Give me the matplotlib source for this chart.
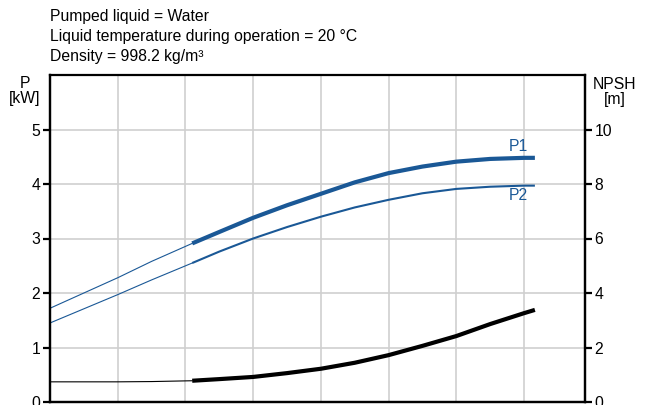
import matplotlib.pyplot as plt

plt.rcParams['font.family'] = ['Liberation Sans', 'DejaVu Sans']

# flow axis positions (no labels on the reference, gridline units)
x_thin = [0, 1, 1.5, 2.1]
x_thick = [2.1, 2.5, 3, 3.5, 4, 4.5, 5, 5.5, 6, 6.5, 7, 7.16]

# power curves [kW]
p1_thin = [1.72, 2.28, 2.58, 2.91]
p1_thick = [2.91, 3.12, 3.38, 3.61, 3.82, 4.03, 4.20, 4.32, 4.41, 4.46, 4.48, 4.48]
p2_thin = [1.45, 1.97, 2.24, 2.55]
p2_thick = [2.55, 2.76, 3.00, 3.21, 3.40, 3.57, 3.71, 3.83, 3.91, 3.95, 3.97, 3.97]

# NPSH curve [m]
npsh_thin = [0.74, 0.74, 0.75, 0.78]
npsh_thick = [0.78, 0.84, 0.92, 1.06, 1.22, 1.44, 1.72, 2.06, 2.42, 2.86, 3.26, 3.38]

blue = '#1a5896'
fs = 11.3

fig = plt.figure(figsize=(6.49, 4.05), dpi=100)
ax = fig.add_axes([50 / 649, 3 / 405, 535 / 649, 327 / 405])
ax2 = ax.twinx()

ax.plot(x_thin, p1_thin, color=blue, lw=0.8)
ax.plot(x_thick, p1_thick, color=blue, lw=3.0, solid_capstyle='butt')
ax.plot(x_thin, p2_thin, color=blue, lw=0.8)
ax.plot(x_thick, p2_thick, color=blue, lw=1.5, solid_capstyle='butt')
ax2.plot(x_thin, npsh_thin, color='black', lw=0.8)
ax2.plot(x_thick, npsh_thick, color='black', lw=3.0, solid_capstyle='butt')

ax.text(7.06, 4.69, 'P1', color=blue, ha='right', va='center', fontsize=fs)
ax.text(7.06, 3.78, 'P2', color=blue, ha='right', va='center', fontsize=fs)

ax.set_xlim(0, 7.9)
ax.set_ylim(0, 6)
ax2.set_ylim(0, 12)
ax.set_xticks([1, 2, 3, 4, 5, 6, 7])
ax.set_yticks([0, 1, 2, 3, 4, 5])
ax2.set_yticks([0, 2, 4, 6, 8, 10])
ax.grid(True, color='#cfcfcf', lw=1.2)
ax.set_axisbelow(True)
ax.tick_params(axis='x', length=0, labelbottom=False)
ax.tick_params(axis='y', length=5, width=1.6, labelsize=fs, pad=2)
ax2.tick_params(axis='y', length=5, width=1.6, labelsize=fs, pad=2)

for a in (ax, ax2):
    for s in a.spines.values():
        s.set_linewidth(1.6)
        s.set_color('black')
ax.spines['top'].set_linewidth(1.2)

fig.text(50 / 649, 1 - 17 / 405, 'Pumped liquid = Water', fontsize=fs, va='center')
fig.text(50 / 649, 1 - 37 / 405, 'Liquid temperature during operation = 20 °C', fontsize=fs, va='center')
fig.text(50 / 649, 1 - 57 / 405, 'Density = 998.2 kg/m³', fontsize=fs, va='center')
fig.text(25 / 649, 1 - 91 / 405, 'P\n[kW]', fontsize=fs, ha='center', va='center', linespacing=1.0)
fig.text(615 / 649, 1 - 92 / 405, 'NPSH\n[m]', fontsize=fs, ha='center', va='center', linespacing=1.0)

fig.savefig('out.png', dpi=100)
